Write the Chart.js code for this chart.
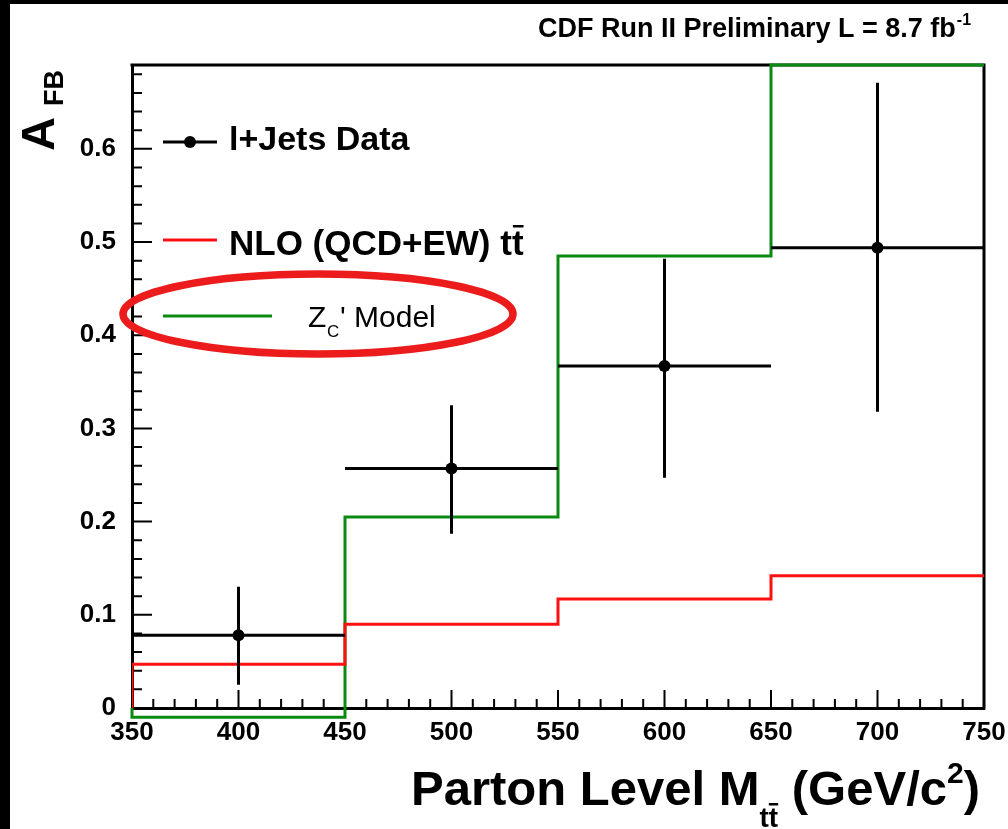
<!DOCTYPE html>
<html>
<head>
<meta charset="utf-8">
<script src="https://cdn.jsdelivr.net/npm/chart.js@4/dist/chart.umd.min.js"></script>
<style>
  html, body { margin: 0; padding: 0; background: #fff; overflow: hidden; }
  #wrap { width: 1008px; height: 829px; position: relative; }
</style>
</head>
<body>
<div id="wrap"><canvas id="c" width="1008" height="829"></canvas></div>
<script>
// Bin edges of the parton-level M(tt) histogram (GeV/c^2)
const binEdges = [350, 450, 550, 650, 750];
// NLO (QCD+EW) prediction, one value per bin
const nloQcdEw = [0.047, 0.090, 0.117, 0.142];
// Zc' model prediction, one value per bin
const zcModel = [-0.010, 0.205, 0.485, 0.690];
// l+jets data: bin centres, A_FB and its down / up uncertainties
const dataMass = [400, 500, 600, 700];
const dataAfb = [0.078, 0.257, 0.367, 0.494];
const dataErrDown = [0.053, 0.070, 0.120, 0.176];
const dataErrUp = [0.052, 0.068, 0.115, 0.177];
// Axis ticks
const xTickValues = [350, 400, 450, 500, 550, 600, 650, 700, 750];
const xTickLabels = ['350', '400', '450', '500', '550', '600', '650', '700', '750'];
const yTickValues = [0, 0.1, 0.2, 0.3, 0.4, 0.5, 0.6];
const yTickLabels = ['0', '0.1', '0.2', '0.3', '0.4', '0.5', '0.6'];
const xRange = [350, 750];
const yRange = [0, 0.69];
const xMinorStep = 10;
const yMinorStep = 0.02;

const FONT = '"Liberation Sans", Arial, Helvetica, sans-serif';
const GREEN = '#0b8a12';
const RED = '#ff1010';

// Histogram outline: rise at the first edge, then a flat top per bin with vertical joins
function histogramOutline(values) {
  const pts = [{ x: binEdges[0], y: 0 }];
  values.forEach((v, i) => {
    pts.push({ x: binEdges[i], y: v });
    pts.push({ x: binEdges[i + 1], y: v });
  });
  return pts;
}

// Error bars: horizontal bin-width bar and vertical uncertainty bar per point, separated by gaps
function errorBarSegments() {
  const pts = [];
  dataMass.forEach((m, i) => {
    const y = dataAfb[i];
    pts.push({ x: binEdges[i], y: y });
    pts.push({ x: binEdges[i + 1], y: y });
    pts.push({ x: m, y: null });
    pts.push({ x: m, y: y - dataErrDown[i] });
    pts.push({ x: m, y: y + dataErrUp[i] });
    pts.push({ x: m, y: null });
  });
  return pts;
}

const decorations = {
  id: 'decorations',
  beforeDraw(chart) {
    const ctx = chart.ctx;
    ctx.save();
    ctx.fillStyle = '#fff';
    ctx.fillRect(0, 0, chart.width, chart.height);
    ctx.fillStyle = '#000';
    ctx.fillRect(0, 0, 10, chart.height);
    ctx.fillRect(0, 0, chart.width, 4);
    ctx.restore();
  },
  beforeDatasetsDraw(chart) {
    const ctx = chart.ctx;
    const a = chart.chartArea;
    const xs = chart.scales.x, ys = chart.scales.y;
    ctx.save();
    // top and right frame lines
    ctx.strokeStyle = '#000';
    ctx.lineWidth = 3;
    ctx.beginPath();
    ctx.moveTo(a.left - 1.5, a.top);
    ctx.lineTo(a.right, a.top);
    ctx.lineTo(a.right, a.bottom + 1.5);
    ctx.stroke();
    // inward tick marks
    ctx.lineWidth = 2;
    ctx.beginPath();
    for (let v = xs.min; v <= xs.max + 1e-9; v += xMinorStep) {
      const major = xTickValues.some(t => Math.abs(t - v) < 1e-6);
      const px = xs.getPixelForValue(v);
      ctx.moveTo(px, a.bottom);
      ctx.lineTo(px, a.bottom - (major ? 18 : 9));
    }
    for (let v = ys.min; v <= ys.max + 1e-9; v += yMinorStep) {
      const major = yTickValues.some(t => Math.abs(t - v) < 1e-6);
      const py = ys.getPixelForValue(v);
      ctx.moveTo(a.left, py);
      ctx.lineTo(a.left + (major ? 20 : 10), py);
    }
    ctx.stroke();
    ctx.restore();
  },
  afterDraw(chart) {
    const ctx = chart.ctx;
    ctx.save();
    ctx.fillStyle = '#000';
    ctx.textBaseline = 'alphabetic';
    ctx.textAlign = 'left';

    // header
    ctx.font = 'bold 27px ' + FONT;
    const head = 'CDF Run II Preliminary L = 8.7 fb';
    ctx.fillText(head, 538, 37);
    const hw = ctx.measureText(head).width;
    ctx.font = 'bold 16px ' + FONT;
    ctx.fillText('-1', 538 + hw + 1, 25);

    // x-axis title, right aligned
    const mainF = 'bold 49px ' + FONT, subF = 'bold 28px ' + FONT, supF = 'bold 30px ' + FONT;
    const parts = [
      { t: 'Parton Level M', f: mainF, dy: 0 },
      { t: 'tt', f: subF, dy: 22, bar: true },
      { t: ' (GeV/c', f: mainF, dy: 0 },
      { t: '2', f: supF, dy: -22 },
      { t: ')', f: mainF, dy: 0 }
    ];
    let total = 0;
    parts.forEach(p => { ctx.font = p.f; p.w = ctx.measureText(p.t).width; total += p.w; });
    let x = 980 - total;
    const base = 805;
    parts.forEach(p => {
      ctx.font = p.f;
      ctx.fillText(p.t, x, base + p.dy);
      if (p.bar) {
        const tw = ctx.measureText('t').width;
        ctx.fillRect(x + tw, base + p.dy - 24, tw, 2.5);
      }
      x += p.w;
    });

    // y-axis title, rotated
    ctx.save();
    ctx.translate(54, 151);
    ctx.rotate(-Math.PI / 2);
    ctx.font = 'bold 47px ' + FONT;
    ctx.fillText('A', 0, 0);
    const aw = ctx.measureText('A').width;
    ctx.font = 'bold 27px ' + FONT;
    ctx.fillText('FB', aw + 11, 9);
    ctx.restore();

    // legend
    ctx.lineWidth = 3;
    ctx.strokeStyle = '#000';
    ctx.beginPath(); ctx.moveTo(163, 142); ctx.lineTo(217, 142); ctx.stroke();
    ctx.beginPath(); ctx.arc(190, 142, 6, 0, Math.PI * 2); ctx.fill();
    ctx.font = 'bold 34px ' + FONT;
    ctx.fillText('l+Jets Data', 229, 150);

    ctx.strokeStyle = RED;
    ctx.beginPath(); ctx.moveTo(163, 240); ctx.lineTo(217, 240); ctx.stroke();
    ctx.font = 'bold 35px ' + FONT;
    const nlo = 'NLO (QCD+EW) tt';
    ctx.fillText(nlo, 229, 255);
    const nw = ctx.measureText(nlo).width, tw2 = ctx.measureText('t').width;
    ctx.fillRect(229 + nw - tw2 + 1, 225, tw2 - 1, 2.5);

    ctx.strokeStyle = GREEN;
    ctx.beginPath(); ctx.moveTo(163, 316); ctx.lineTo(272, 316); ctx.stroke();
    ctx.font = '30px ' + FONT;
    ctx.fillText('Z', 308, 327);
    ctx.font = '17px ' + FONT;
    ctx.fillText('C', 327, 337);
    ctx.font = '30px ' + FONT;
    ctx.fillText("' Model", 340, 327);

    // highlight ring around the Zc' entry
    ctx.strokeStyle = '#ec1c1c';
    ctx.lineWidth = 7.5;
    ctx.beginPath();
    ctx.ellipse(318, 314, 195, 40, 0, 0, Math.PI * 2);
    ctx.stroke();
    ctx.restore();
  }
};

new Chart(document.getElementById('c'), {
  type: 'scatter',
  data: {
    datasets: [
      {
        label: 'l+Jets Data',
        data: dataMass.map((m, i) => ({ x: m, y: dataAfb[i] })),
        showLine: false,
        pointRadius: 6,
        pointBackgroundColor: '#000',
        pointBorderWidth: 0,
        order: 0
      },
      {
        label: 'l+Jets Data uncertainties',
        data: errorBarSegments(),
        showLine: true,
        spanGaps: false,
        borderColor: '#000',
        borderWidth: 3,
        pointRadius: 0,
        order: 1
      },
      {
        label: 'NLO (QCD+EW) tt',
        data: histogramOutline(nloQcdEw),
        showLine: true,
        borderColor: RED,
        borderWidth: 3,
        pointRadius: 0,
        order: 2
      },
      {
        label: "Zc' Model",
        data: histogramOutline(zcModel),
        showLine: true,
        borderColor: GREEN,
        borderWidth: 3,
        pointRadius: 0,
        clip: false,
        order: 3
      }
    ]
  },
  options: {
    responsive: false,
    animation: false,
    events: [],
    layout: { padding: { left: 0, top: 65, right: 24, bottom: 0 } },
    plugins: { legend: { display: false }, tooltip: { enabled: false } },
    scales: {
      x: {
        type: 'linear',
        position: 'bottom',
        min: xRange[0],
        max: xRange[1],
        grid: { display: false, drawTicks: false, tickLength: 0 },
        border: { display: true, color: '#000', width: 3 },
        afterBuildTicks: s => { s.ticks = xTickValues.map(v => ({ value: v })); },
        afterFit: s => { s.height = 121; s.paddingLeft = 0; s.paddingRight = 0; },
        ticks: {
          autoSkip: false,
          maxRotation: 0,
          padding: 9,
          color: '#000',
          font: { family: FONT, size: 26, weight: 'bold' },
          callback: (v) => xTickLabels[xTickValues.indexOf(v)]
        }
      },
      y: {
        type: 'linear',
        min: yRange[0],
        max: yRange[1],
        grid: { display: false, drawTicks: false, tickLength: 0 },
        border: { display: true, color: '#000', width: 3 },
        afterBuildTicks: s => { s.ticks = yTickValues.map(v => ({ value: v })); },
        afterFit: s => { s.width = 132; s.paddingTop = 0; s.paddingBottom = 0; },
        ticks: {
          padding: 16,
          color: '#000',
          font: { family: FONT, size: 26, weight: 'bold' },
          callback: (v) => yTickLabels[yTickValues.findIndex(t => Math.abs(t - v) < 1e-9)]
        }
      }
    }
  },
  plugins: [decorations]
});
</script>
</body>
</html>
